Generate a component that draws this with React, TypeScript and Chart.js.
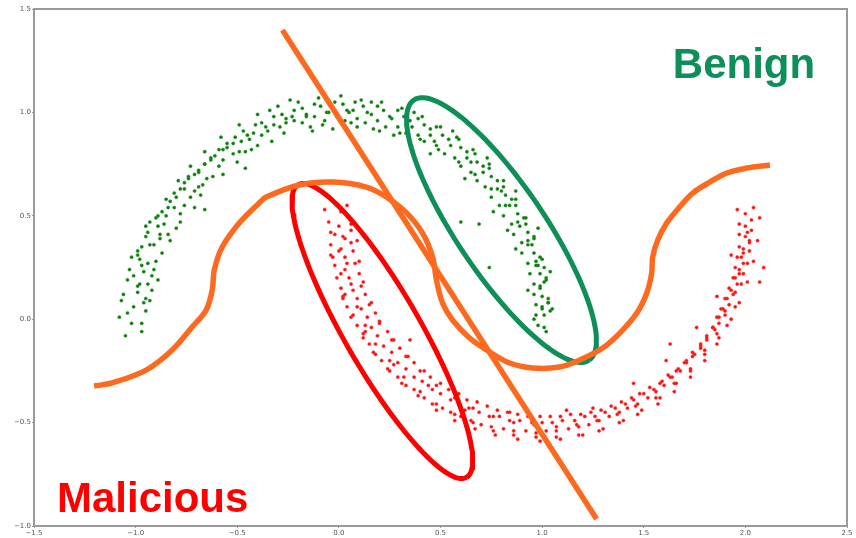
import React, { useEffect, useRef } from 'react';
import { Chart, registerables } from 'chart.js';

Chart.register(...registerables);

// ---- data ----
const xTicks = [-1.5, -1.0, -0.5, 0.0, 0.5, 1.0, 1.5, 2.0, 2.5];
const yTicks = [-1.0, -0.5, 0.0, 0.5, 1.0, 1.5];

const benignPoints: [number, number][] = [
  [-1.04,0.03],[-0.97,-0.06],[-1.07,0.09],[-0.99,0.13],[-1.02,-0.02],[-0.95,0.04],[-1.05,-0.08],
  [-0.98,0.17],[-1.06,0.12],[-0.93,0.09],[-1.01,0.21],[-0.96,0.23],
  [-0.94,0.27],[-1.03,0.24],[-0.89,0.19],[-0.99,0.31],[-0.92,0.21],[-0.97,0.35],
  [-0.91,0.36],[-0.98,0.29],[-0.87,0.32],[-0.95,0.40],[-0.90,0.28],
  [-0.86,0.46],[-0.94,0.42],[-0.83,0.38],[-0.90,0.49],[-0.88,0.41],[-0.80,0.44],
  [-0.81,0.54],[-0.89,0.50],[-0.78,0.47],[-0.85,0.58],[-0.76,0.55],
  [-0.76,0.63],[-0.83,0.57],[-0.73,0.59],[-0.79,0.67],[-0.71,0.54],[-0.68,0.60],
  [-0.69,0.71],[-0.76,0.66],[-0.67,0.65],[-0.73,0.74],[-0.65,0.68],
  [-0.63,0.78],[-0.69,0.72],[-0.59,0.74],[-0.66,0.81],[-0.62,0.69],[-0.57,0.70],
  [-0.55,0.85],[-0.61,0.79],[-0.52,0.80],[-0.58,0.88],[-0.50,0.76],
  [-0.47,0.91],[-0.52,0.85],[-0.44,0.87],[-0.49,0.94],[-0.40,0.84],[-0.46,0.81],
  [-0.38,0.95],[-0.42,0.90],[-0.35,0.91],[-0.40,0.99],[-0.33,0.86],
  [-0.28,0.99],[-0.32,0.94],[-0.26,0.95],[-0.30,1.03],[-0.23,0.98],[-0.27,0.90],
  [-0.18,1.02],[-0.22,0.96],[-0.16,0.98],[-0.20,1.05],[-0.14,0.93],
  [-0.09,1.03],[-0.12,0.98],[-0.06,1.00],[-0.10,1.07],[-0.04,1.04],[-0.08,0.94],
  [0.02,1.04],[-0.01,0.98],[0.04,1.01],[0.01,1.08],[0.06,0.95],
  [0.12,1.03],[0.09,0.97],[0.14,1.00],[0.11,1.06],[0.16,1.05],[0.07,1.01],
  [0.22,1.01],[0.19,0.96],[0.25,0.98],[0.21,1.05],[0.17,0.92],
  [0.32,0.98],[0.29,0.93],[0.35,0.96],[0.31,1.02],[0.37,1.00],[0.27,0.89],
  [0.42,0.94],[0.39,0.89],[0.45,0.92],[0.41,0.98],[0.47,0.86],
  [0.51,0.89],[0.48,0.84],[0.54,0.87],[0.50,0.93],[0.56,0.91],[0.45,0.80],
  [0.60,0.83],[0.57,0.78],[0.63,0.81],[0.59,0.87],[0.65,0.76],
  [0.68,0.76],[0.65,0.71],[0.71,0.74],[0.67,0.80],[0.73,0.78],[0.62,0.68],
  [0.75,0.69],[0.72,0.64],[0.78,0.67],[0.74,0.73],[0.80,0.62],
  [0.82,0.60],[0.79,0.55],[0.85,0.58],[0.81,0.64],[0.87,0.62],[0.76,0.52],
  [0.88,0.51],[0.85,0.46],[0.91,0.49],[0.87,0.55],[0.83,0.43],
  [0.93,0.42],[0.90,0.37],[0.96,0.40],[0.92,0.46],[0.98,0.44],[0.87,0.34],
  [0.96,0.32],[0.93,0.27],[0.99,0.30],[0.95,0.36],[1.01,0.25],
  [0.99,0.22],[0.96,0.17],[1.02,0.20],[0.98,0.26],[1.04,0.23],[0.93,0.14],
  [1.00,0.11],[0.97,0.07],[1.03,0.10],[0.99,0.15],[1.05,0.05],
  [1.01,0.02],[0.98,-0.03],[1.04,0.04],[1.00,0.06],[0.96,0.00],[1.02,-0.06],
  [-0.46,0.73],[0.74,0.25],[0.60,0.47],[-0.66,0.53],[0.69,0.46],
  [-1.01,0.06],[-0.95,0.10],[-1.08,0.01],[-0.97,-0.02],
  [-0.99,0.16],[-1.04,0.19],[-0.92,0.14],[-0.96,0.08],
  [-0.97,0.26],[-0.91,0.24],[-1.02,0.30],[-0.94,0.17],
  [-0.93,0.36],[-0.99,0.33],[-0.88,0.39],[-0.95,0.45],
  [-0.89,0.45],[-0.85,0.50],[-0.93,0.47],[-0.84,0.41],
  [-0.84,0.54],[-0.80,0.59],[-0.87,0.52],[-0.78,0.51],
  [-0.78,0.63],[-0.74,0.68],[-0.81,0.61],[-0.71,0.62],
  [-0.71,0.70],[-0.66,0.75],[-0.74,0.69],[-0.69,0.64],
  [-0.63,0.77],[-0.59,0.82],[-0.66,0.75],[-0.57,0.77],
  [-0.55,0.83],[-0.51,0.88],[-0.57,0.82],[-0.49,0.81],
  [-0.45,0.89],[-0.41,0.94],[-0.48,0.86],[-0.43,0.82],
  [-0.36,0.93],[-0.32,0.98],[-0.38,0.89],[-0.34,1.01],
  [-0.26,0.97],[-0.22,1.01],[-0.29,0.93],[-0.24,1.06],
  [-0.16,0.99],[-0.12,1.04],[-0.18,0.95],[-0.13,0.91],
  [-0.05,1.00],[-0.02,1.05],[-0.07,0.96],[-0.03,0.92],
  [0.05,1.00],[0.08,1.05],[0.03,0.96],[0.09,0.93],
  [0.16,0.99],[0.19,1.03],[0.13,0.95],[0.20,0.91],
  [0.26,0.97],[0.29,1.01],[0.23,0.93],[0.30,0.90],
  [0.36,0.93],[0.39,0.97],[0.33,0.90],[0.40,0.87],
  [0.45,0.89],[0.48,0.93],[0.42,0.86],[0.49,0.82],
  [0.55,0.84],[0.58,0.88],[0.52,0.80],[0.59,0.76],
  [0.63,0.78],[0.66,0.82],[0.60,0.74],[0.67,0.70],
  [0.71,0.71],[0.74,0.75],[0.68,0.67],[0.75,0.63],
  [0.78,0.63],[0.81,0.67],[0.75,0.59],[0.82,0.55],
  [0.84,0.55],[0.87,0.58],[0.81,0.50],[0.88,0.47],
  [0.89,0.45],[0.92,0.49],[0.86,0.41],[0.93,0.38],
  [0.93,0.36],[0.96,0.39],[0.90,0.32],[0.97,0.28],
  [0.97,0.26],[1.00,0.29],[0.94,0.22],[1.01,0.18],
  [0.99,0.16],[1.02,0.19],[0.96,0.12],[1.03,0.08],
  [1.00,0.05],[1.03,0.08],[0.97,0.02],[1.01,-0.04],
];

const maliciousPoints: [number, number][] = [
  [0.01,0.52],[-0.05,0.47],[0.04,0.55],[-0.02,0.41],[0.06,0.46],[-0.07,0.53],
  [0.02,0.40],[-0.04,0.36],[0.06,0.43],[0.00,0.33],[0.09,0.38],
  [0.03,0.30],[-0.02,0.26],[0.07,0.33],[0.01,0.22],[0.10,0.28],[-0.04,0.31],
  [0.05,0.20],[0.01,0.15],[0.10,0.22],[0.03,0.12],[0.12,0.18],
  [0.09,0.10],[0.04,0.06],[0.13,0.12],[0.07,0.02],[0.16,0.08],[0.02,0.11],
  [0.14,0.01],[0.09,-0.03],[0.18,0.03],[0.12,-0.07],[0.20,-0.01],
  [0.19,-0.08],[0.15,-0.12],[0.24,-0.06],[0.17,-0.16],[0.26,-0.10],[0.13,-0.06],
  [0.26,-0.16],[0.21,-0.20],[0.30,-0.14],[0.24,-0.24],[0.33,-0.18],
  [0.33,-0.24],[0.29,-0.28],[0.37,-0.21],[0.31,-0.31],[0.40,-0.25],[0.27,-0.22],
  [0.41,-0.30],[0.37,-0.34],[0.45,-0.28],[0.39,-0.37],[0.48,-0.32],
  [0.50,-0.36],[0.46,-0.41],[0.54,-0.34],[0.48,-0.44],[0.57,-0.38],[0.44,-0.32],
  [0.59,-0.41],[0.55,-0.45],[0.63,-0.39],[0.57,-0.49],[0.66,-0.43],
  [0.69,-0.45],[0.65,-0.49],[0.73,-0.42],[0.67,-0.53],[0.76,-0.47],[0.62,-0.44],
  [0.79,-0.47],[0.75,-0.52],[0.83,-0.45],[0.77,-0.56],[0.86,-0.50],
  [0.89,-0.49],[0.86,-0.54],[0.93,-0.47],[0.88,-0.58],[0.96,-0.51],[0.84,-0.45],
  [1.00,-0.50],[0.97,-0.55],[1.04,-0.47],[0.99,-0.59],[1.07,-0.52],
  [1.10,-0.49],[1.07,-0.54],[1.14,-0.46],[1.09,-0.58],[1.17,-0.51],[1.12,-0.44],
  [1.21,-0.47],[1.18,-0.52],[1.24,-0.45],[1.20,-0.56],[1.27,-0.49],
  [1.31,-0.45],[1.28,-0.49],[1.34,-0.42],[1.30,-0.53],[1.37,-0.46],[1.25,-0.43],
  [1.41,-0.41],[1.38,-0.45],[1.44,-0.38],[1.40,-0.49],[1.46,-0.42],
  [1.50,-0.36],[1.47,-0.41],[1.53,-0.33],[1.49,-0.44],[1.56,-0.38],[1.45,-0.31],
  [1.59,-0.30],[1.56,-0.35],[1.62,-0.27],[1.58,-0.38],[1.65,-0.31],
  [1.67,-0.24],[1.64,-0.28],[1.70,-0.21],[1.66,-0.31],[1.73,-0.25],[1.61,-0.20],
  [1.74,-0.16],[1.71,-0.20],[1.78,-0.14],[1.73,-0.24],[1.80,-0.17],
  [1.81,-0.08],[1.78,-0.12],[1.85,-0.05],[1.80,-0.15],[1.87,-0.09],[1.76,-0.04],
  [1.87,0.01],[1.84,-0.04],[1.90,0.04],[1.86,-0.07],[1.93,0.00],
  [1.91,0.10],[1.88,0.05],[1.95,0.13],[1.90,0.02],[1.97,0.08],[1.86,0.11],
  [1.95,0.20],[1.92,0.15],[1.99,0.22],[1.94,0.12],[2.01,0.18],
  [1.98,0.30],[1.95,0.25],[2.02,0.33],[1.97,0.22],[2.04,0.28],[1.93,0.31],
  [2.00,0.40],[1.97,0.35],[2.03,0.43],[1.99,0.32],[2.06,0.38],
  [2.00,0.51],[1.97,0.46],[2.04,0.54],[2.01,0.42],[2.07,0.49],[1.96,0.53],
  [2.09,0.25],[2.07,0.18],[1.63,-0.12],[0.35,-0.10],
  [0.00,0.45],[-0.04,0.42],[0.05,0.49],[0.03,0.39],
  [0.01,0.34],[-0.03,0.30],[0.06,0.37],[0.04,0.27],
  [0.03,0.24],[-0.01,0.20],[0.08,0.27],[0.06,0.17],
  [0.07,0.14],[0.02,0.10],[0.11,0.16],[0.09,0.06],
  [0.11,0.05],[0.06,0.01],[0.15,0.07],[0.13,-0.03],
  [0.16,-0.04],[0.12,-0.09],[0.20,-0.02],[0.18,-0.12],
  [0.22,-0.13],[0.18,-0.17],[0.27,-0.10],[0.25,-0.20],
  [0.29,-0.21],[0.25,-0.25],[0.34,-0.18],[0.32,-0.28],
  [0.37,-0.28],[0.33,-0.32],[0.42,-0.25],[0.40,-0.35],
  [0.46,-0.34],[0.42,-0.38],[0.50,-0.31],[0.48,-0.41],
  [0.55,-0.39],[0.51,-0.43],[0.59,-0.36],[0.57,-0.46],
  [0.64,-0.43],[0.60,-0.47],[0.68,-0.40],[0.66,-0.50],
  [0.74,-0.47],[0.70,-0.51],[0.78,-0.44],[0.76,-0.54],
  [0.84,-0.49],[0.81,-0.53],[0.88,-0.46],[0.86,-0.56],
  [0.95,-0.50],[0.92,-0.54],[0.99,-0.47],[0.97,-0.57],
  [1.05,-0.50],[1.02,-0.54],[1.09,-0.47],[1.07,-0.57],
  [1.16,-0.49],[1.13,-0.53],[1.19,-0.46],[1.18,-0.56],
  [1.26,-0.47],[1.23,-0.51],[1.29,-0.44],[1.28,-0.54],
  [1.36,-0.43],[1.33,-0.47],[1.39,-0.40],[1.38,-0.50],
  [1.45,-0.39],[1.42,-0.43],[1.48,-0.36],[1.47,-0.46],
  [1.55,-0.34],[1.52,-0.38],[1.58,-0.31],[1.57,-0.41],
  [1.63,-0.28],[1.60,-0.32],[1.66,-0.25],[1.65,-0.35],
  [1.71,-0.21],[1.68,-0.25],[1.74,-0.18],[1.73,-0.28],
  [1.78,-0.13],[1.75,-0.17],[1.81,-0.10],[1.80,-0.20],
  [1.84,-0.04],[1.81,-0.09],[1.87,-0.02],[1.86,-0.12],
  [1.89,0.05],[1.86,0.01],[1.92,0.07],[1.91,-0.03],
  [1.93,0.14],[1.90,0.10],[1.96,0.17],[1.95,0.06],
  [1.97,0.24],[1.94,0.20],[1.99,0.27],[1.98,0.17],
  [1.99,0.34],[1.96,0.30],[2.02,0.37],[2.01,0.27],
  [2.00,0.45],[1.97,0.41],[2.03,0.48],[2.02,0.38],
];

const linearBoundary: [number, number][] = [[-0.278, 1.398], [1.268, -0.966]];

const curvedBoundary: [number, number][] = [
  [-1.204,-0.323],[-1.116,-0.308],[-0.948,-0.246],[-0.820,-0.149],[-0.722,-0.038],
  [-0.653,0.044],[-0.623,0.141],[-0.613,0.238],[-0.574,0.349],[-0.490,0.465],
  [-0.392,0.562],[-0.357,0.591],[-0.195,0.649],[-0.032,0.663],[0.135,0.639],
  [0.234,0.591],[0.333,0.514],[0.411,0.417],[0.461,0.301],[0.480,0.190],
  [0.510,0.078],[0.559,-0.004],[0.643,-0.091],[0.727,-0.149],[0.840,-0.212],
  [0.953,-0.236],[1.086,-0.231],[1.185,-0.197],[1.298,-0.139],[1.382,-0.067],
  [1.466,0.030],[1.515,0.127],[1.539,0.223],[1.544,0.301],[1.569,0.383],
  [1.613,0.465],[1.677,0.543],[1.741,0.610],[1.825,0.663],[1.909,0.707],
  [2.007,0.731],[2.121,0.746],
];

// ellipses: centre, half major axis vector, half minor axis vector (data units)
const benignEllipseCenter = [0.80, 0.431];
const benignEllipseMajor = [0.431, -0.629];
const benignEllipseMinor = [0.180, 0.119];
const maliciousEllipseCenter = [0.214, -0.057];
const maliciousEllipseMajor = [0.414, -0.708];
const maliciousEllipseMinor = [0.162, 0.091];

const benignLabel = 'Benign';
const maliciousLabel = 'Malicious';

function ellipse(c: number[], u: number[], v: number[]) {
  const pts: { x: number; y: number }[] = [];
  const n = 120;
  for (let i = 0; i <= n; i++) {
    const t = (i / n) * Math.PI * 2;
    pts.push({ x: c[0] + u[0] * Math.cos(t) + v[0] * Math.sin(t), y: c[1] + u[1] * Math.cos(t) + v[1] * Math.sin(t) });
  }
  return pts;
}

const toXY = (a: [number, number][]) => a.map(([x, y]) => ({ x, y }));
const fmt = (v: number) => (v < 0 ? '\u2212' + Math.abs(v).toFixed(1) : v.toFixed(1));

const ORANGE = '#fd6a1f';
const GREEN = '#0f8f58';
const RED = '#ff0000';

export default function App() {
  const ref = useRef<HTMLCanvasElement>(null);
  useEffect(() => {
    if (!ref.current) return;
    const framePlugin = {
      id: 'frame',
      beforeDatasetsDraw(chart: any) {
        const { ctx, chartArea: a } = chart;
        ctx.save();
        ctx.strokeStyle = '#9a9a9a';
        ctx.lineWidth = 2;
        ctx.strokeRect(a.left, a.top, a.right - a.left, a.bottom - a.top);
        ctx.restore();
      },
      afterDatasetsDraw(chart: any) {
        const { ctx } = chart;
        const xs = chart.scales.x, ys = chart.scales.y;
        ctx.save();
        ctx.font = 'bold 42px "Liberation Sans", Arial, sans-serif';
        ctx.textBaseline = 'alphabetic';
        ctx.textAlign = 'left';
        ctx.fillStyle = GREEN;
        ctx.fillText(benignLabel, xs.getPixelForValue(1.643), ys.getPixelForValue(1.166));
        ctx.fillStyle = RED;
        ctx.fillText(maliciousLabel, xs.getPixelForValue(-1.387), ys.getPixelForValue(-0.932));
        ctx.restore();
      },
    };
    const lineDs = (data: any[], color: string, width: number, tension: number, order: number) => ({
      type: 'scatter' as const,
      data,
      showLine: true,
      borderColor: color,
      backgroundColor: color,
      borderWidth: width,
      pointRadius: 0,
      tension,
      order,
    });
    const chart = new Chart(ref.current, {
      type: 'scatter',
      data: {
        datasets: [
          lineDs(toXY(curvedBoundary), ORANGE, 5.5, 0.35, 0),
          lineDs(toXY(linearBoundary), ORANGE, 5.5, 0, 0),
          lineDs(ellipse(benignEllipseCenter, benignEllipseMajor, benignEllipseMinor), GREEN, 5, 0, 1),
          lineDs(ellipse(maliciousEllipseCenter, maliciousEllipseMajor, maliciousEllipseMinor), RED, 5, 0, 1),
          {
            data: toXY(benignPoints),
            backgroundColor: '#0a800a',
            borderColor: '#2a8f2a',
            borderWidth: 0.5,
            pointRadius: 1.6,
            order: 5,
          } as any,
          {
            data: toXY(maliciousPoints),
            backgroundColor: '#ff1010',
            borderColor: '#ff3030',
            borderWidth: 0.5,
            pointRadius: 1.6,
            order: 5,
          } as any,
        ],
      },
      options: {
        responsive: false,
        animation: false,
        layout: { padding: { top: 9, right: 9, left: 0, bottom: 0 } },
        plugins: { legend: { display: false }, tooltip: { enabled: false } },
        scales: {
          x: {
            type: 'linear',
            min: -1.5,
            max: 2.5,
            afterBuildTicks: (s: any) => { s.ticks = xTicks.map((v) => ({ value: v })); },
            afterFit: (s: any) => { s.height = 12; },
            border: { display: false },
            grid: { drawOnChartArea: false, drawTicks: true, tickLength: 2, color: '#999' },
            ticks: {
              padding: 1,
              color: '#555',
              font: { size: 7, family: '"DejaVu Sans", sans-serif' },
              maxRotation: 0,
              callback: (v: any) => fmt(Number(v)),
            },
          },
          y: {
            type: 'linear',
            min: -1.0,
            max: 1.5,
            afterBuildTicks: (s: any) => { s.ticks = yTicks.map((v) => ({ value: v })); },
            afterFit: (s: any) => { s.width = 34; },
            border: { display: false },
            grid: { drawOnChartArea: false, drawTicks: true, tickLength: 2, color: '#999' },
            ticks: {
              padding: 1,
              color: '#555',
              font: { size: 7, family: '"DejaVu Sans", sans-serif' },
              callback: (v: any) => fmt(Number(v)),
            },
          },
        },
      },
      plugins: [framePlugin],
    });
    return () => chart.destroy();
  }, []);
  return (
    <div style={{ position: 'fixed', left: 0, top: 0, width: 856, height: 538, background: '#fff' }}>
      <canvas ref={ref} width={856} height={538} style={{ display: 'block' }} />
    </div>
  );
}
